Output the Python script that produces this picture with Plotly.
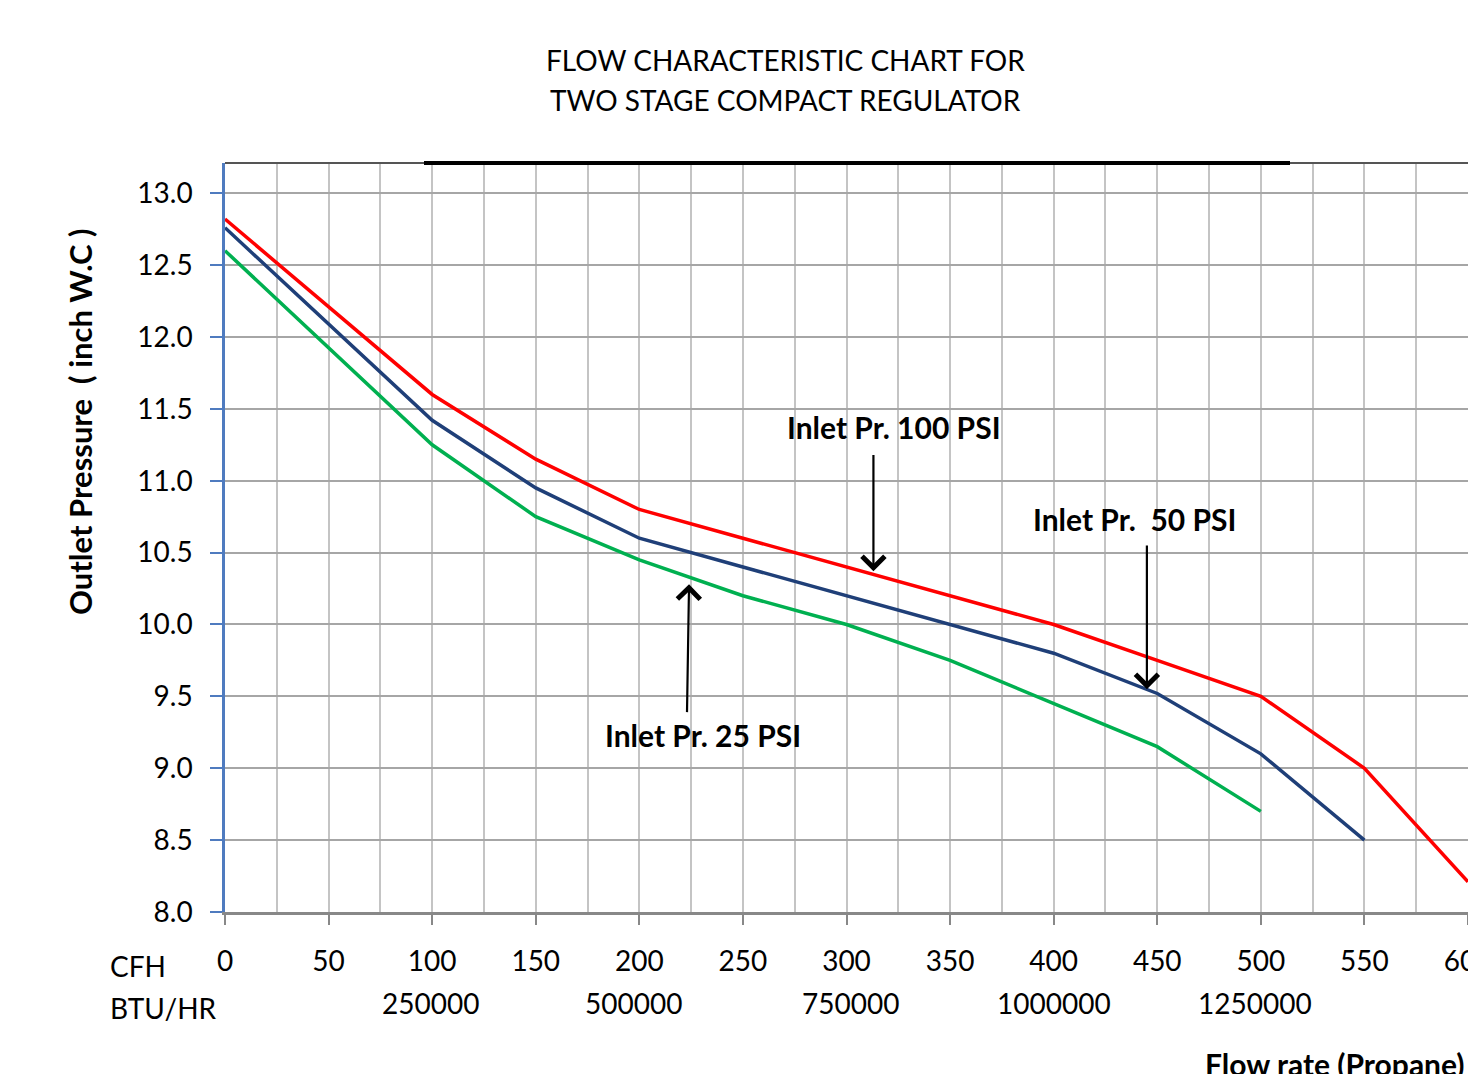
import plotly.graph_objects as go

# ---------------- data ----------------
cfh = [0, 100, 150, 200, 250, 300, 350, 400, 450, 500, 550, 600]
p100 = [12.82, 11.60, 11.15, 10.80, 10.60, 10.40, 10.20, 10.00, 9.75, 9.50, 9.00, 8.21]
cfh50 = [0, 100, 150, 200, 250, 300, 350, 400, 450, 500, 550]
p50 = [12.76, 11.42, 10.95, 10.60, 10.40, 10.20, 10.00, 9.80, 9.52, 9.10, 8.50]
cfh25 = [0, 100, 150, 200, 250, 300, 350, 400, 450, 500]
p25 = [12.60, 11.25, 10.75, 10.45, 10.20, 10.00, 9.75, 9.45, 9.15, 8.70]

x_ticks = [0, 50, 100, 150, 200, 250, 300, 350, 400, 450, 500, 550, 600]
y_ticks = [8.0, 8.5, 9.0, 9.5, 10.0, 10.5, 11.0, 11.5, 12.0, 12.5, 13.0]
btu_labels = ["250000", "500000", "750000", "1000000", "1250000"]
btu_cfh = [99, 197, 302, 400, 497]

FONT = "Lato"
OFF = 0  # page body margin removed by post_script
W, H = 1468, 1074
# target plot area in viewport pixels: x 225..1468, y 163..912
L, R, T, B = 225 - OFF, 0, 163 - OFF, H - (912 - OFF)
PW = W - L - R
PH = H - T - B


def px(p):
    return (p - OFF - L) / PW


def py(p):
    return (H - B - (p - OFF)) / PH


fig = go.Figure()
fig.add_trace(go.Scatter(x=cfh, y=p100, mode="lines", line=dict(color="#ff0000", width=3.5), name="100 PSI"))
fig.add_trace(go.Scatter(x=cfh50, y=p50, mode="lines", line=dict(color="#1f3f78", width=3.5), name="50 PSI"))
fig.add_trace(go.Scatter(x=cfh25, y=p25, mode="lines", line=dict(color="#00b050", width=3.5), name="25 PSI"))

fig.update_xaxes(
    range=[0, 600], tickvals=x_ticks, ticktext=[str(v) for v in x_ticks],
    showgrid=True, gridcolor="#c4c4c4", gridwidth=2,
    minor=dict(dtick=25, tick0=0, showgrid=True, gridcolor="#c4c4c4", gridwidth=2),
    showline=True, linecolor="#888888", linewidth=3,
    ticks="outside", ticklen=10, tickwidth=1.5, tickcolor="#888888",
    tickfont=dict(family=FONT, size=28, color="black"),
    ticklabelstandoff=12, ticklabeloverflow="allow", zeroline=False, automargin=False,
)
fig.update_yaxes(
    range=[8.0, 13.21], tickvals=y_ticks, ticktext=[f"{v:.1f}" for v in y_ticks],
    showgrid=True, gridcolor="#a6a6a6", gridwidth=2,
    showline=True, linecolor="#4f7bbf", linewidth=2.5,
    ticks="outside", ticklen=12, tickwidth=1.5, tickcolor="#4f7bbf",
    tickfont=dict(family=FONT, size=28, color="black"),
    ticklabelstandoff=12, zeroline=False, automargin=False,
)

ann = []


def text_ann(text, x, y, font, xanchor="center", xref="paper", **kw):
    ann.append(dict(text=text, xref=xref, yref="paper", x=x, y=y, xanchor=xanchor,
                    yanchor="middle", showarrow=False, font=font, **kw))


# title (two lines)
title_font = dict(family=FONT, size=28, color="black")
text_ann("FLOW CHARACTERISTIC CHART FOR", px(785), py(60), title_font)
text_ann("TWO STAGE COMPACT REGULATOR", px(785), py(100), title_font)
# y axis title
text_ann("Outlet Pressure \u00a0( inch W.C )", px(80), py(422),
         dict(family=FONT, size=31, color="black", weight="bold"), textangle=-90)
# series labels
lab_font = dict(family=FONT, size=30, color="black", weight="bold")
text_ann("Inlet Pr. 100 PSI", px(894), py(427), lab_font)
text_ann("Inlet Pr. \u00a050 PSI", px(1134), py(519), lab_font)
text_ann("Inlet Pr. 25 PSI", px(703), py(735), lab_font)
# arrows (tip x,y ; tail ax,ay)
for tip, tail in [((313, 10.37), (313, 11.19)), ((445, 9.55), (445, 10.56)), ((224, 10.28), (223, 9.38))]:
    ann.append(dict(text="", x=tip[0], y=tip[1], ax=tail[0], ay=tail[1], xref="x", yref="y",
                    axref="x", ayref="y", showarrow=True, arrowhead=4, arrowsize=2,
                    arrowwidth=2.2, arrowcolor="black"))
# CFH / BTU row labels
row_font = dict(family=FONT, size=28, color="black")
text_ann("CFH", px(108), py(966), row_font, xanchor="left")
text_ann("BTU/HR", px(108), py(1008), row_font, xanchor="left")
for lab, xv in zip(btu_labels, btu_cfh):
    text_ann(lab, xv, py(1003), row_font, xref="x")
text_ann("Flow rate (Propane)", px(1203), py(1064),
         dict(family=FONT, size=30, color="black", weight="bold"), xanchor="left")

shapes = [
    dict(type="line", xref="paper", yref="paper", x0=0, x1=1, y0=1, y1=1, line=dict(color="#555555", width=2)),
    dict(type="line", xref="paper", yref="paper", x0=px(424), x1=px(1290), y0=1, y1=1, line=dict(color="black", width=4)),
]

fig.update_layout(
    width=W, height=H, margin=dict(l=L, r=R, t=T, b=B, autoexpand=False),
    paper_bgcolor="white", plot_bgcolor="white", showlegend=False,
    annotations=ann, shapes=shapes,
)
fig.write_html(
    "out.html",
    config={"displayModeBar": False},
    post_script="document.body.style.margin='0';document.documentElement.style.overflow='hidden';",
)
